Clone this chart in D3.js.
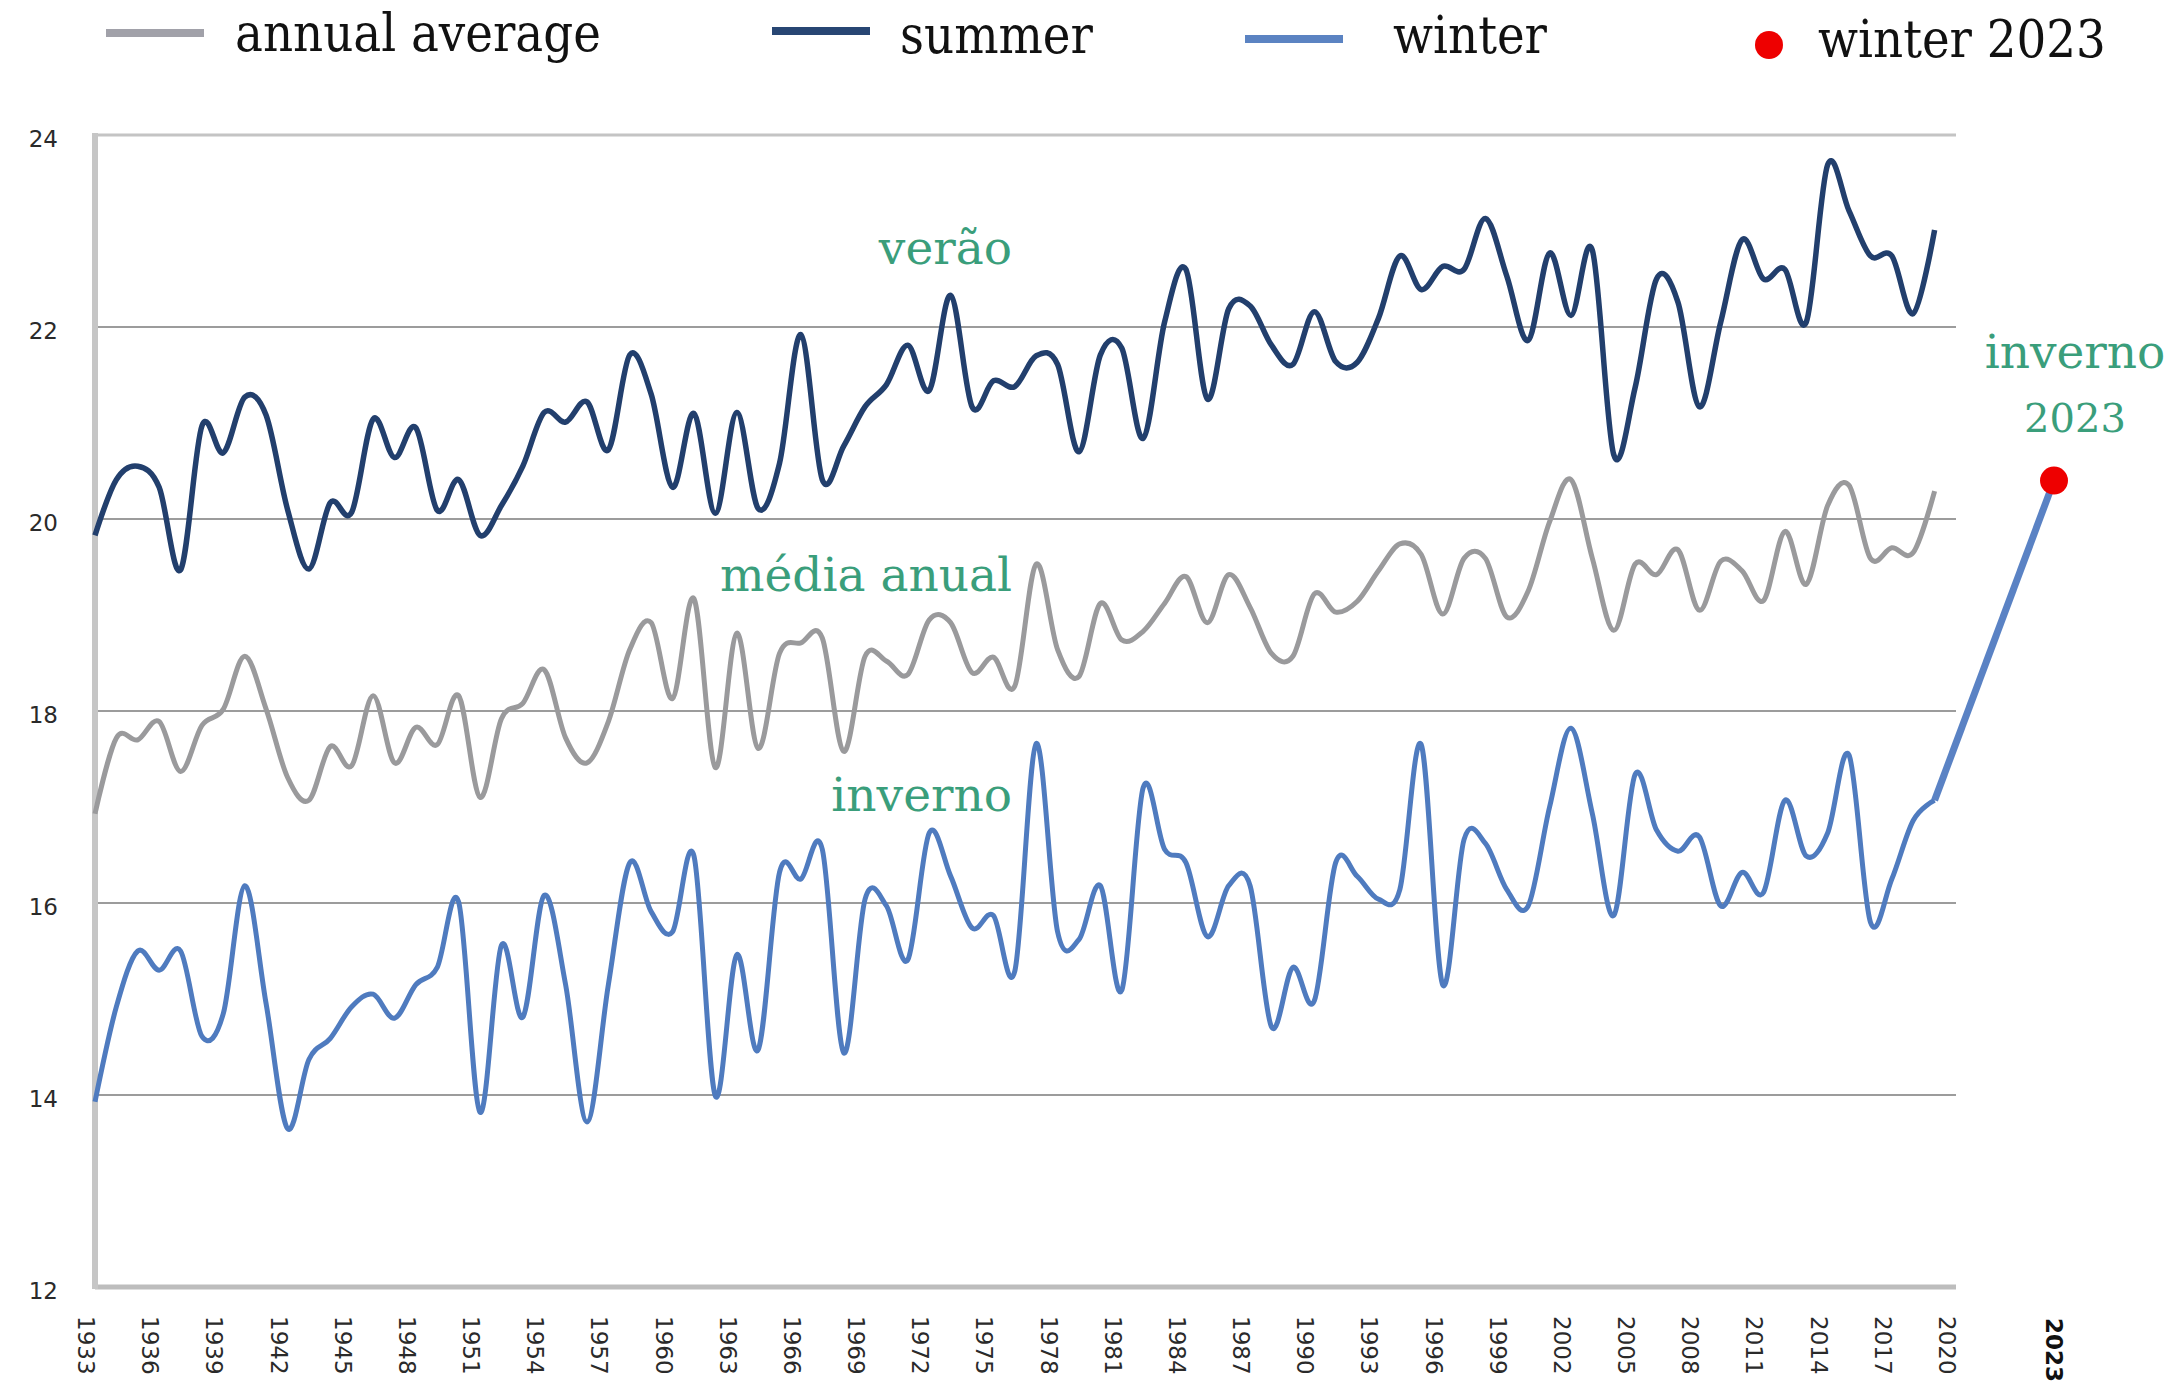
<!DOCTYPE html>
<html>
<head>
<meta charset="utf-8">
<script src="https://cdn.jsdelivr.net/npm/d3@7"></script>
<style>
  body { margin: 0; background: #fff; }
  svg { display: block; }
</style>
</head>
<body>
<svg id="chart" width="2182" height="1383"></svg>
<script>
// years on the axis (1933..2020), data runs 1933..2019
let years = d3.range(1933, 2020)
let yearTicks = d3.range(1933, 2021, 3)
let yTicks = [12, 14, 16, 18, 20, 22, 24]

let summer = [
  19.83, 20.41, 20.55, 20.33, 19.47, 20.97, 20.69, 21.27, 21.08, 20.10, 19.48, 20.17, 20.07, 21.04, 20.64, 20.95,
  20.09, 20.41, 19.83, 20.14, 20.55, 21.11, 21.01, 21.22, 20.72, 21.71, 21.30, 20.33, 21.10, 20.06,
  21.11, 20.11, 20.58, 21.92, 20.41, 20.76, 21.17, 21.40, 21.81, 21.34, 22.33, 21.17, 21.44, 21.38,
  21.70, 21.61, 20.70, 21.71, 21.78, 20.84, 22.05, 22.60, 21.25, 22.19, 22.22, 21.81, 21.61, 22.16, 21.64,
  21.63, 22.09, 22.74, 22.39, 22.63, 22.60, 23.13, 22.53, 21.86, 22.77, 22.12, 22.80, 20.67, 21.37, 22.50,
  22.26, 21.17, 22.05, 22.91, 22.50, 22.60, 22.05, 23.69, 23.21, 22.74, 22.74, 22.14, 23.01
]

let annual = [
  16.93, 17.72, 17.70, 17.89, 17.37, 17.85, 18.02, 18.57, 18.02, 17.31, 17.07, 17.63, 17.43, 18.16, 17.46, 17.83,
  17.65, 18.16, 17.10, 17.92, 18.08, 18.43, 17.72, 17.46, 17.89, 18.64, 18.92, 18.13, 19.17, 17.41,
  18.81, 17.61, 18.60, 18.71, 18.76, 17.58, 18.57, 18.52, 18.38, 18.95, 18.92, 18.40, 18.56, 18.26,
  19.53, 18.64, 18.36, 19.12, 18.74, 18.83, 19.12, 19.40, 18.92, 19.42, 19.08, 18.60, 18.57, 19.22, 19.03,
  19.14, 19.46, 19.74, 19.63, 19.01, 19.59, 19.59, 18.98, 19.25, 19.97, 20.41, 19.59, 18.84, 19.53, 19.42,
  19.68, 19.05, 19.56, 19.46, 19.15, 19.87, 19.32, 20.14, 20.35, 19.59, 19.70, 19.65, 20.29
]

let winter = [
  13.93, 14.92, 15.50, 15.30, 15.50, 14.61, 14.85, 16.18, 14.95, 13.65, 14.37, 14.59, 14.92, 15.05, 14.80, 15.15,
  15.33, 16.01, 13.82, 15.56, 14.81, 16.08, 15.15, 13.72, 15.15, 16.42, 15.91, 15.70, 16.49, 13.99,
  15.46, 14.47, 16.32, 16.25, 16.56, 14.44, 16.04, 15.97, 15.41, 16.73, 16.28, 15.74, 15.87, 15.29,
  17.66, 15.70, 15.62, 16.18, 15.09, 17.20, 16.56, 16.42, 15.65, 16.18, 16.18, 14.71, 15.33, 14.98, 16.42,
  16.28, 16.04, 16.14, 17.65, 15.15, 16.66, 16.62, 16.14, 15.97, 17.00, 17.82, 16.93, 15.87, 17.34, 16.76,
  16.54, 16.69, 15.97, 16.32, 16.11, 17.07, 16.49, 16.73, 17.54, 15.80, 16.25, 16.86, 17.07
]

let winter2023Year = 2023
let winter2023 = 20.4

let legendItems = [
  { label: "annual average", color: "#a1a1a9", kind: "line" },
  { label: "summer", color: "#284673", kind: "line" },
  { label: "winter", color: "#5b83c2", kind: "line" },
  { label: "winter 2023", color: "#ee0000", kind: "dot" }
]

let seriesLabels = ["verão", "média anual", "inverno"]

let colors = { summer: "#223f6d", annual: "#9a9a9c", winter: "#4f7bbf", red: "#ee0000", green: "#3a9e7b" }

let svg = d3.select("#chart")

let x = d3.scaleLinear()
  .domain([1933, 2020, 2023])
  .range([95, 1956, 2054])

let y = d3.scaleLinear()
  .domain([12, 24])
  .range([1287, 135])

let left = x(1933), right = x(2020)

// gridlines
svg.append("g")
  .selectAll("line")
  .data(yTicks.filter(d => d > 12)).enter()
  .append("line")
  .attr("x1", left).attr("x2", right)
  .attr("y1", d => y(d)).attr("y2", d => y(d))
  .attr("stroke", d => d == 24 ? "#c4c4c4" : "#9c9c9c")
  .attr("stroke-width", d => d == 24 ? 3 : 2)

// axes lines
svg.append("line")
  .attr("x1", left).attr("x2", right)
  .attr("y1", y(12)).attr("y2", y(12))
  .attr("stroke", "#bdbdbd").attr("stroke-width", 5)
svg.append("line")
  .attr("x1", left).attr("x2", left)
  .attr("y1", y(24) - 2).attr("y2", y(12) + 2)
  .attr("stroke", "#c6c6c6").attr("stroke-width", 6)

// y tick labels
svg.append("g")
  .selectAll("text")
  .data(yTicks).enter()
  .append("text")
  .attr("x", 58)
  .attr("y", d => y(d) + 4)
  .attr("text-anchor", "end")
  .attr("dominant-baseline", "central")
  .attr("font-family", "DejaVu Sans")
  .attr("font-size", 23)
  .attr("fill", "#2a2a2a")
  .text(d => d)

// x tick labels, rotated
svg.append("g")
  .selectAll("text")
  .data(yearTicks).enter()
  .append("text")
  .attr("transform", d => `translate(${x(d) - 9},1316) rotate(90)`)
  .attr("dominant-baseline", "central")
  .attr("font-family", "DejaVu Sans")
  .attr("font-size", 23)
  .attr("fill", "#2a2a2a")
  .text(d => d)

svg.append("text")
  .attr("transform", `translate(${x(winter2023Year)},1318) rotate(90)`)
  .attr("dominant-baseline", "central")
  .attr("font-family", "DejaVu Sans")
  .attr("font-weight", "bold")
  .attr("font-size", 23)
  .attr("fill", "#111")
  .text(winter2023Year)

// series lines
let line = d3.line()
  .x((d, i) => x(years[i]))
  .y(d => y(d))
  .curve(d3.curveCardinal.tension(0))

let series = [
  { values: annual, color: colors.annual, width: 5 },
  { values: summer, color: colors.summer, width: 5.5 },
  { values: winter, color: colors.winter, width: 5 }
]

svg.append("g")
  .selectAll("path")
  .data(series).enter()
  .append("path")
  .attr("d", d => line(d.values))
  .attr("fill", "none")
  .attr("stroke", d => d.color)
  .attr("stroke-width", d => d.width)
  .attr("stroke-linejoin", "round")

// extension to 2023
let lastYear = years[years.length - 1]
svg.append("line")
  .attr("x1", x(lastYear)).attr("y1", y(winter[winter.length - 1]))
  .attr("x2", x(winter2023Year)).attr("y2", y(winter2023))
  .attr("stroke", "#5a82c4").attr("stroke-width", 7)

svg.append("circle")
  .attr("cx", x(winter2023Year)).attr("cy", y(winter2023))
  .attr("r", 14)
  .attr("fill", colors.red)

// series annotations
let annX = 1012
let annY = [264, 591, 811]
svg.append("g")
  .selectAll("text")
  .data(seriesLabels).enter()
  .append("text")
  .attr("x", annX)
  .attr("y", (d, i) => annY[i])
  .attr("text-anchor", "end")
  .attr("font-family", "DejaVu Serif")
  .attr("font-size", 47)
  .attr("fill", colors.green)
  .text(d => d)

svg.append("text")
  .attr("x", 2075).attr("y", 368)
  .attr("text-anchor", "middle")
  .attr("font-family", "DejaVu Serif")
  .attr("font-size", 47)
  .attr("fill", colors.green)
  .text("inverno")
svg.append("text")
  .attr("x", 2075).attr("y", 432)
  .attr("text-anchor", "middle")
  .attr("font-family", "DejaVu Serif")
  .attr("font-size", 40)
  .attr("fill", colors.green)
  .text(winter2023Year)

// legend
let legendX = [106, 772, 1245, 1769]
let legendTextX = [235, 900, 1393, 1818]
let legendY = [33, 31, 39, 45]
let legendBase = [51, 53, 53, 57]

let lg = svg.append("g")
legendItems.forEach((it, i) => {
  if (it.kind == "line") {
    lg.append("line")
      .attr("x1", legendX[i]).attr("x2", legendX[i] + 98)
      .attr("y1", legendY[i]).attr("y2", legendY[i])
      .attr("stroke", it.color).attr("stroke-width", 8)
  } else {
    lg.append("circle")
      .attr("cx", legendX[i]).attr("cy", legendY[i])
      .attr("r", 14).attr("fill", it.color)
  }
  lg.append("text")
    .attr("x", legendTextX[i]).attr("y", legendBase[i])
    .attr("font-family", "DejaVu Serif Condensed")
    .attr("font-size", 52)
    .attr("fill", "#111")
    .text(it.label)
})
</script>
</body>
</html>
